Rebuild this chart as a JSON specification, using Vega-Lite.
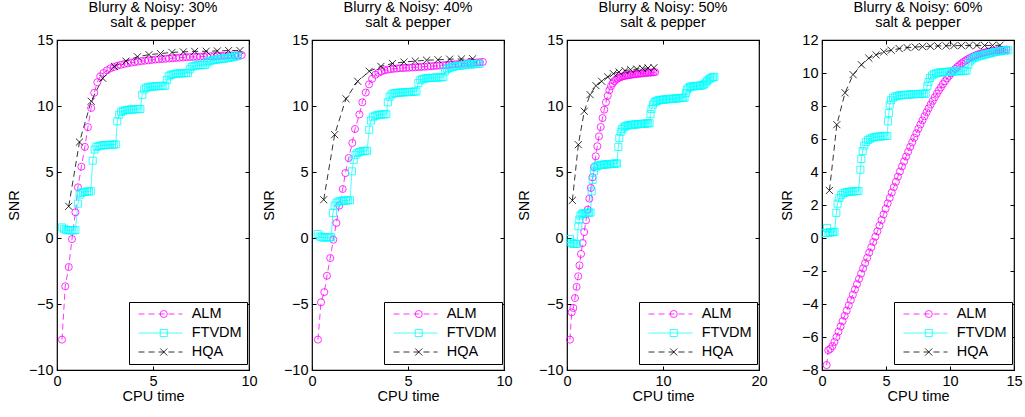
{
"$schema": "https://vega.github.io/schema/vega-lite/v6.json",
"background": "white",
"padding": {"left": 5, "top": -2, "right": 0, "bottom": 0},
"spacing": 63,
"bounds": "flush",
"data": {"values": [
{"p":1,"m":"ALM","x":0.26,"y":-7.7},{"p":1,"m":"ALM","x":0.43,"y":-3.66},{"p":1,"m":"ALM","x":0.61,"y":-2.2},{"p":1,"m":"ALM","x":0.78,"y":-0.08},{"p":1,"m":"ALM","x":0.96,"y":1.95},{"p":1,"m":"ALM","x":1.09,"y":3.84},{"p":1,"m":"ALM","x":1.27,"y":5.4},{"p":1,"m":"ALM","x":1.45,"y":6.9},{"p":1,"m":"ALM","x":1.61,"y":8.4},{"p":1,"m":"ALM","x":1.78,"y":9.85},{"p":1,"m":"ALM","x":1.94,"y":11.0},{"p":1,"m":"ALM","x":2.1,"y":11.8},{"p":1,"m":"ALM","x":2.25,"y":12.25},{"p":1,"m":"ALM","x":2.42,"y":12.5},{"p":1,"m":"ALM","x":2.6,"y":12.7},{"p":1,"m":"ALM","x":2.78,"y":12.85},{"p":1,"m":"ALM","x":2.96,"y":12.95},{"p":1,"m":"ALM","x":3.14,"y":13.05},{"p":1,"m":"ALM","x":3.32,"y":13.12},{"p":1,"m":"ALM","x":3.5,"y":13.18},{"p":1,"m":"ALM","x":3.68,"y":13.23},{"p":1,"m":"ALM","x":3.86,"y":13.28},{"p":1,"m":"ALM","x":4.04,"y":13.32},{"p":1,"m":"ALM","x":4.22,"y":13.36},{"p":1,"m":"ALM","x":4.4,"y":13.4},{"p":1,"m":"ALM","x":4.58,"y":13.43},{"p":1,"m":"ALM","x":4.76,"y":13.46},{"p":1,"m":"ALM","x":4.94,"y":13.49},{"p":1,"m":"ALM","x":5.12,"y":13.52},{"p":1,"m":"ALM","x":5.3,"y":13.54},{"p":1,"m":"ALM","x":5.48,"y":13.56},{"p":1,"m":"ALM","x":5.66,"y":13.58},{"p":1,"m":"ALM","x":5.84,"y":13.6},{"p":1,"m":"ALM","x":6.02,"y":13.62},{"p":1,"m":"ALM","x":6.2,"y":13.64},{"p":1,"m":"ALM","x":6.38,"y":13.66},{"p":1,"m":"ALM","x":6.56,"y":13.68},{"p":1,"m":"ALM","x":6.74,"y":13.7},{"p":1,"m":"ALM","x":6.92,"y":13.71},{"p":1,"m":"ALM","x":7.1,"y":13.72},{"p":1,"m":"ALM","x":7.28,"y":13.73},{"p":1,"m":"ALM","x":7.46,"y":13.74},{"p":1,"m":"ALM","x":7.64,"y":13.75},{"p":1,"m":"ALM","x":7.82,"y":13.76},{"p":1,"m":"ALM","x":8.0,"y":13.77},{"p":1,"m":"ALM","x":8.18,"y":13.78},{"p":1,"m":"ALM","x":8.36,"y":13.79},{"p":1,"m":"ALM","x":8.54,"y":13.8},{"p":1,"m":"ALM","x":8.72,"y":13.81},{"p":1,"m":"ALM","x":8.9,"y":13.82},{"p":1,"m":"ALM","x":9.08,"y":13.83},{"p":1,"m":"ALM","x":9.26,"y":13.84},{"p":1,"m":"ALM","x":9.44,"y":13.85},{"p":1,"m":"ALM","x":9.62,"y":13.86},
{"p":1,"m":"HQA","x":0.61,"y":2.4},{"p":1,"m":"HQA","x":1.17,"y":7.27},{"p":1,"m":"HQA","x":1.78,"y":10.36},{"p":1,"m":"HQA","x":2.38,"y":12.1},{"p":1,"m":"HQA","x":2.99,"y":13.0},{"p":1,"m":"HQA","x":3.59,"y":13.4},{"p":1,"m":"HQA","x":4.19,"y":13.73},{"p":1,"m":"HQA","x":4.79,"y":13.89},{"p":1,"m":"HQA","x":5.39,"y":13.97},{"p":1,"m":"HQA","x":5.99,"y":14.06},{"p":1,"m":"HQA","x":6.58,"y":14.1},{"p":1,"m":"HQA","x":7.17,"y":14.14},{"p":1,"m":"HQA","x":7.77,"y":14.15},{"p":1,"m":"HQA","x":8.35,"y":14.17},{"p":1,"m":"HQA","x":8.94,"y":14.2},{"p":1,"m":"HQA","x":9.53,"y":14.2},
{"p":1,"m":"FTVDM","x":0.26,"y":0.8},{"p":1,"m":"FTVDM","x":0.36,"y":0.7},{"p":1,"m":"FTVDM","x":0.46,"y":0.62},{"p":1,"m":"FTVDM","x":0.56,"y":0.58},{"p":1,"m":"FTVDM","x":0.66,"y":0.58},{"p":1,"m":"FTVDM","x":0.76,"y":0.58},{"p":1,"m":"FTVDM","x":0.86,"y":0.58},{"p":1,"m":"FTVDM","x":0.96,"y":0.6},{"p":1,"m":"FTVDM","x":1.09,"y":2.6},{"p":1,"m":"FTVDM","x":1.18,"y":3.28},{"p":1,"m":"FTVDM","x":1.26,"y":3.42},{"p":1,"m":"FTVDM","x":1.36,"y":3.47},{"p":1,"m":"FTVDM","x":1.46,"y":3.5},{"p":1,"m":"FTVDM","x":1.56,"y":3.52},{"p":1,"m":"FTVDM","x":1.66,"y":3.53},{"p":1,"m":"FTVDM","x":1.76,"y":3.54},{"p":1,"m":"FTVDM","x":1.86,"y":5.86},{"p":1,"m":"FTVDM","x":1.96,"y":6.7},{"p":1,"m":"FTVDM","x":2.06,"y":6.9},{"p":1,"m":"FTVDM","x":2.16,"y":6.97},{"p":1,"m":"FTVDM","x":2.26,"y":7.0},{"p":1,"m":"FTVDM","x":2.36,"y":7.02},{"p":1,"m":"FTVDM","x":2.46,"y":7.03},{"p":1,"m":"FTVDM","x":2.56,"y":7.04},{"p":1,"m":"FTVDM","x":2.66,"y":7.05},{"p":1,"m":"FTVDM","x":2.76,"y":7.06},{"p":1,"m":"FTVDM","x":2.86,"y":7.07},{"p":1,"m":"FTVDM","x":2.96,"y":7.08},{"p":1,"m":"FTVDM","x":3.06,"y":7.09},{"p":1,"m":"FTVDM","x":3.14,"y":8.84},{"p":1,"m":"FTVDM","x":3.24,"y":9.35},{"p":1,"m":"FTVDM","x":3.34,"y":9.55},{"p":1,"m":"FTVDM","x":3.44,"y":9.63},{"p":1,"m":"FTVDM","x":3.54,"y":9.67},{"p":1,"m":"FTVDM","x":3.64,"y":9.7},{"p":1,"m":"FTVDM","x":3.74,"y":9.72},{"p":1,"m":"FTVDM","x":3.84,"y":9.73},{"p":1,"m":"FTVDM","x":3.94,"y":9.74},{"p":1,"m":"FTVDM","x":4.04,"y":9.75},{"p":1,"m":"FTVDM","x":4.14,"y":9.76},{"p":1,"m":"FTVDM","x":4.24,"y":9.77},{"p":1,"m":"FTVDM","x":4.34,"y":9.78},{"p":1,"m":"FTVDM","x":4.44,"y":10.85},{"p":1,"m":"FTVDM","x":4.54,"y":11.25},{"p":1,"m":"FTVDM","x":4.64,"y":11.38},{"p":1,"m":"FTVDM","x":4.74,"y":11.42},{"p":1,"m":"FTVDM","x":4.84,"y":11.45},{"p":1,"m":"FTVDM","x":4.94,"y":11.47},{"p":1,"m":"FTVDM","x":5.04,"y":11.48},{"p":1,"m":"FTVDM","x":5.14,"y":11.49},{"p":1,"m":"FTVDM","x":5.24,"y":11.5},{"p":1,"m":"FTVDM","x":5.34,"y":11.51},{"p":1,"m":"FTVDM","x":5.44,"y":11.52},{"p":1,"m":"FTVDM","x":5.54,"y":11.53},{"p":1,"m":"FTVDM","x":5.64,"y":11.54},{"p":1,"m":"FTVDM","x":5.72,"y":11.98},{"p":1,"m":"FTVDM","x":5.82,"y":12.25},{"p":1,"m":"FTVDM","x":5.92,"y":12.35},{"p":1,"m":"FTVDM","x":6.02,"y":12.4},{"p":1,"m":"FTVDM","x":6.12,"y":12.43},{"p":1,"m":"FTVDM","x":6.22,"y":12.45},{"p":1,"m":"FTVDM","x":6.32,"y":12.46},{"p":1,"m":"FTVDM","x":6.42,"y":12.47},{"p":1,"m":"FTVDM","x":6.52,"y":12.48},{"p":1,"m":"FTVDM","x":6.62,"y":12.49},{"p":1,"m":"FTVDM","x":6.72,"y":12.5},{"p":1,"m":"FTVDM","x":6.82,"y":12.51},{"p":1,"m":"FTVDM","x":6.92,"y":12.78},{"p":1,"m":"FTVDM","x":7.02,"y":12.97},{"p":1,"m":"FTVDM","x":7.12,"y":13.03},{"p":1,"m":"FTVDM","x":7.22,"y":13.06},{"p":1,"m":"FTVDM","x":7.32,"y":13.08},{"p":1,"m":"FTVDM","x":7.42,"y":13.09},{"p":1,"m":"FTVDM","x":7.52,"y":13.1},{"p":1,"m":"FTVDM","x":7.62,"y":13.11},{"p":1,"m":"FTVDM","x":7.72,"y":13.12},{"p":1,"m":"FTVDM","x":7.82,"y":13.3},{"p":1,"m":"FTVDM","x":7.92,"y":13.4},{"p":1,"m":"FTVDM","x":8.02,"y":13.44},{"p":1,"m":"FTVDM","x":8.12,"y":13.47},{"p":1,"m":"FTVDM","x":8.22,"y":13.5},{"p":1,"m":"FTVDM","x":8.32,"y":13.52},{"p":1,"m":"FTVDM","x":8.42,"y":13.54},{"p":1,"m":"FTVDM","x":8.52,"y":13.56},{"p":1,"m":"FTVDM","x":8.62,"y":13.58},{"p":1,"m":"FTVDM","x":8.72,"y":13.6},{"p":1,"m":"FTVDM","x":8.82,"y":13.62},{"p":1,"m":"FTVDM","x":8.92,"y":13.64},{"p":1,"m":"FTVDM","x":9.02,"y":13.67},{"p":1,"m":"FTVDM","x":9.12,"y":13.7},{"p":1,"m":"FTVDM","x":9.22,"y":13.73},{"p":1,"m":"FTVDM","x":9.32,"y":13.76},{"p":1,"m":"FTVDM","x":9.42,"y":13.79},
{"p":2,"m":"ALM","x":0.31,"y":-7.7},{"p":2,"m":"ALM","x":0.47,"y":-4.87},{"p":2,"m":"ALM","x":0.64,"y":-4.1},{"p":2,"m":"ALM","x":0.78,"y":-2.86},{"p":2,"m":"ALM","x":0.95,"y":-1.52},{"p":2,"m":"ALM","x":1.11,"y":-0.13},{"p":2,"m":"ALM","x":1.27,"y":1.14},{"p":2,"m":"ALM","x":1.42,"y":2.45},{"p":2,"m":"ALM","x":1.6,"y":3.71},{"p":2,"m":"ALM","x":1.74,"y":4.92},{"p":2,"m":"ALM","x":1.91,"y":6.06},{"p":2,"m":"ALM","x":2.1,"y":7.2},{"p":2,"m":"ALM","x":2.24,"y":8.26},{"p":2,"m":"ALM","x":2.47,"y":9.36},{"p":2,"m":"ALM","x":2.62,"y":10.28},{"p":2,"m":"ALM","x":2.8,"y":11.02},{"p":2,"m":"ALM","x":2.97,"y":11.64},{"p":2,"m":"ALM","x":3.13,"y":12.06},{"p":2,"m":"ALM","x":3.3,"y":12.37},{"p":2,"m":"ALM","x":3.46,"y":12.52},{"p":2,"m":"ALM","x":3.62,"y":12.62},{"p":2,"m":"ALM","x":3.78,"y":12.7},{"p":2,"m":"ALM","x":3.94,"y":12.75},{"p":2,"m":"ALM","x":4.1,"y":12.79},{"p":2,"m":"ALM","x":4.26,"y":12.82},{"p":2,"m":"ALM","x":4.42,"y":12.84},{"p":2,"m":"ALM","x":4.58,"y":12.86},{"p":2,"m":"ALM","x":4.74,"y":12.88},{"p":2,"m":"ALM","x":4.9,"y":12.89},{"p":2,"m":"ALM","x":5.06,"y":12.9},{"p":2,"m":"ALM","x":5.22,"y":12.92},{"p":2,"m":"ALM","x":5.38,"y":12.93},{"p":2,"m":"ALM","x":5.54,"y":12.95},{"p":2,"m":"ALM","x":5.7,"y":12.96},{"p":2,"m":"ALM","x":5.86,"y":12.98},{"p":2,"m":"ALM","x":6.02,"y":12.99},{"p":2,"m":"ALM","x":6.18,"y":13.01},{"p":2,"m":"ALM","x":6.34,"y":13.03},{"p":2,"m":"ALM","x":6.5,"y":13.05},{"p":2,"m":"ALM","x":6.66,"y":13.07},{"p":2,"m":"ALM","x":6.82,"y":13.09},{"p":2,"m":"ALM","x":6.98,"y":13.1},{"p":2,"m":"ALM","x":7.14,"y":13.12},{"p":2,"m":"ALM","x":7.3,"y":13.14},{"p":2,"m":"ALM","x":7.46,"y":13.16},{"p":2,"m":"ALM","x":7.62,"y":13.18},{"p":2,"m":"ALM","x":7.78,"y":13.2},{"p":2,"m":"ALM","x":7.94,"y":13.22},{"p":2,"m":"ALM","x":8.1,"y":13.24},{"p":2,"m":"ALM","x":8.26,"y":13.26},{"p":2,"m":"ALM","x":8.42,"y":13.28},{"p":2,"m":"ALM","x":8.58,"y":13.3},{"p":2,"m":"ALM","x":8.74,"y":13.32},{"p":2,"m":"ALM","x":8.9,"y":13.34},
{"p":2,"m":"HQA","x":0.61,"y":2.9},{"p":2,"m":"HQA","x":1.18,"y":7.83},{"p":2,"m":"HQA","x":1.77,"y":10.55},{"p":2,"m":"HQA","x":2.38,"y":11.87},{"p":2,"m":"HQA","x":2.98,"y":12.63},{"p":2,"m":"HQA","x":3.59,"y":13.0},{"p":2,"m":"HQA","x":4.19,"y":13.22},{"p":2,"m":"HQA","x":4.79,"y":13.33},{"p":2,"m":"HQA","x":5.38,"y":13.4},{"p":2,"m":"HQA","x":5.97,"y":13.47},{"p":2,"m":"HQA","x":6.56,"y":13.5},{"p":2,"m":"HQA","x":7.17,"y":13.55},{"p":2,"m":"HQA","x":7.78,"y":13.56},{"p":2,"m":"HQA","x":8.37,"y":13.58},
{"p":2,"m":"FTVDM","x":0.3,"y":0.3},{"p":2,"m":"FTVDM","x":0.4,"y":0.12},{"p":2,"m":"FTVDM","x":0.5,"y":0.05},{"p":2,"m":"FTVDM","x":0.6,"y":0.04},{"p":2,"m":"FTVDM","x":0.7,"y":0.04},{"p":2,"m":"FTVDM","x":0.8,"y":0.04},{"p":2,"m":"FTVDM","x":0.9,"y":0.05},{"p":2,"m":"FTVDM","x":1.0,"y":0.06},{"p":2,"m":"FTVDM","x":1.09,"y":1.9},{"p":2,"m":"FTVDM","x":1.18,"y":2.45},{"p":2,"m":"FTVDM","x":1.28,"y":2.68},{"p":2,"m":"FTVDM","x":1.38,"y":2.76},{"p":2,"m":"FTVDM","x":1.48,"y":2.8},{"p":2,"m":"FTVDM","x":1.58,"y":2.82},{"p":2,"m":"FTVDM","x":1.68,"y":2.83},{"p":2,"m":"FTVDM","x":1.78,"y":2.84},{"p":2,"m":"FTVDM","x":1.88,"y":2.85},{"p":2,"m":"FTVDM","x":1.98,"y":2.86},{"p":2,"m":"FTVDM","x":2.08,"y":5.05},{"p":2,"m":"FTVDM","x":2.17,"y":5.93},{"p":2,"m":"FTVDM","x":2.27,"y":6.3},{"p":2,"m":"FTVDM","x":2.37,"y":6.45},{"p":2,"m":"FTVDM","x":2.47,"y":6.52},{"p":2,"m":"FTVDM","x":2.57,"y":6.56},{"p":2,"m":"FTVDM","x":2.67,"y":6.58},{"p":2,"m":"FTVDM","x":2.77,"y":6.6},{"p":2,"m":"FTVDM","x":2.87,"y":6.61},{"p":2,"m":"FTVDM","x":2.98,"y":8.2},{"p":2,"m":"FTVDM","x":3.07,"y":8.9},{"p":2,"m":"FTVDM","x":3.17,"y":9.15},{"p":2,"m":"FTVDM","x":3.27,"y":9.25},{"p":2,"m":"FTVDM","x":3.37,"y":9.3},{"p":2,"m":"FTVDM","x":3.47,"y":9.33},{"p":2,"m":"FTVDM","x":3.57,"y":9.35},{"p":2,"m":"FTVDM","x":3.67,"y":9.36},{"p":2,"m":"FTVDM","x":3.77,"y":9.37},{"p":2,"m":"FTVDM","x":3.87,"y":9.38},{"p":2,"m":"FTVDM","x":3.95,"y":10.28},{"p":2,"m":"FTVDM","x":4.04,"y":10.7},{"p":2,"m":"FTVDM","x":4.14,"y":10.88},{"p":2,"m":"FTVDM","x":4.24,"y":10.95},{"p":2,"m":"FTVDM","x":4.34,"y":10.98},{"p":2,"m":"FTVDM","x":4.44,"y":11.0},{"p":2,"m":"FTVDM","x":4.54,"y":11.01},{"p":2,"m":"FTVDM","x":4.64,"y":11.02},{"p":2,"m":"FTVDM","x":4.74,"y":11.03},{"p":2,"m":"FTVDM","x":4.84,"y":11.04},{"p":2,"m":"FTVDM","x":4.94,"y":11.05},{"p":2,"m":"FTVDM","x":5.04,"y":11.06},{"p":2,"m":"FTVDM","x":5.14,"y":11.07},{"p":2,"m":"FTVDM","x":5.24,"y":11.08},{"p":2,"m":"FTVDM","x":5.34,"y":11.09},{"p":2,"m":"FTVDM","x":5.44,"y":11.1},{"p":2,"m":"FTVDM","x":5.54,"y":11.74},{"p":2,"m":"FTVDM","x":5.64,"y":11.95},{"p":2,"m":"FTVDM","x":5.74,"y":12.03},{"p":2,"m":"FTVDM","x":5.84,"y":12.07},{"p":2,"m":"FTVDM","x":5.94,"y":12.1},{"p":2,"m":"FTVDM","x":6.04,"y":12.11},{"p":2,"m":"FTVDM","x":6.14,"y":12.12},{"p":2,"m":"FTVDM","x":6.24,"y":12.13},{"p":2,"m":"FTVDM","x":6.34,"y":12.14},{"p":2,"m":"FTVDM","x":6.44,"y":12.15},{"p":2,"m":"FTVDM","x":6.54,"y":12.16},{"p":2,"m":"FTVDM","x":6.64,"y":12.17},{"p":2,"m":"FTVDM","x":6.74,"y":12.18},{"p":2,"m":"FTVDM","x":6.84,"y":12.19},{"p":2,"m":"FTVDM","x":6.93,"y":12.63},{"p":2,"m":"FTVDM","x":7.03,"y":12.8},{"p":2,"m":"FTVDM","x":7.13,"y":12.88},{"p":2,"m":"FTVDM","x":7.23,"y":12.93},{"p":2,"m":"FTVDM","x":7.33,"y":12.97},{"p":2,"m":"FTVDM","x":7.43,"y":13.0},{"p":2,"m":"FTVDM","x":7.53,"y":13.02},{"p":2,"m":"FTVDM","x":7.63,"y":13.04},{"p":2,"m":"FTVDM","x":7.73,"y":13.06},{"p":2,"m":"FTVDM","x":7.83,"y":13.08},{"p":2,"m":"FTVDM","x":7.93,"y":13.1},{"p":2,"m":"FTVDM","x":8.03,"y":13.12},{"p":2,"m":"FTVDM","x":8.13,"y":13.14},{"p":2,"m":"FTVDM","x":8.23,"y":13.15},{"p":2,"m":"FTVDM","x":8.33,"y":13.16},{"p":2,"m":"FTVDM","x":8.43,"y":13.17},{"p":2,"m":"FTVDM","x":8.53,"y":13.18},{"p":2,"m":"FTVDM","x":8.63,"y":13.19},{"p":2,"m":"FTVDM","x":8.73,"y":13.2},
{"p":3,"m":"ALM","x":0.31,"y":-7.7},{"p":3,"m":"ALM","x":0.49,"y":-5.63},{"p":3,"m":"ALM","x":0.66,"y":-5.3},{"p":3,"m":"ALM","x":0.83,"y":-4.55},{"p":3,"m":"ALM","x":1.0,"y":-3.7},{"p":3,"m":"ALM","x":1.17,"y":-2.9},{"p":3,"m":"ALM","x":1.3,"y":-2.07},{"p":3,"m":"ALM","x":1.46,"y":-1.21},{"p":3,"m":"ALM","x":1.63,"y":-0.38},{"p":3,"m":"ALM","x":1.79,"y":0.45},{"p":3,"m":"ALM","x":1.98,"y":1.34},{"p":3,"m":"ALM","x":2.15,"y":2.14},{"p":3,"m":"ALM","x":2.33,"y":2.98},{"p":3,"m":"ALM","x":2.49,"y":3.79},{"p":3,"m":"ALM","x":2.65,"y":4.6},{"p":3,"m":"ALM","x":2.82,"y":5.38},{"p":3,"m":"ALM","x":2.99,"y":6.19},{"p":3,"m":"ALM","x":3.16,"y":6.95},{"p":3,"m":"ALM","x":3.33,"y":7.7},{"p":3,"m":"ALM","x":3.51,"y":8.41},{"p":3,"m":"ALM","x":3.7,"y":9.09},{"p":3,"m":"ALM","x":3.88,"y":9.72},{"p":3,"m":"ALM","x":4.06,"y":10.28},{"p":3,"m":"ALM","x":4.24,"y":10.78},{"p":3,"m":"ALM","x":4.41,"y":11.19},{"p":3,"m":"ALM","x":4.58,"y":11.49},{"p":3,"m":"ALM","x":4.76,"y":11.72},{"p":3,"m":"ALM","x":4.93,"y":11.88},{"p":3,"m":"ALM","x":5.1,"y":12.0},{"p":3,"m":"ALM","x":5.27,"y":12.08},{"p":3,"m":"ALM","x":5.44,"y":12.15},{"p":3,"m":"ALM","x":5.61,"y":12.2},{"p":3,"m":"ALM","x":5.78,"y":12.24},{"p":3,"m":"ALM","x":5.95,"y":12.27},{"p":3,"m":"ALM","x":6.12,"y":12.3},{"p":3,"m":"ALM","x":6.29,"y":12.32},{"p":3,"m":"ALM","x":6.46,"y":12.34},{"p":3,"m":"ALM","x":6.63,"y":12.36},{"p":3,"m":"ALM","x":6.8,"y":12.38},{"p":3,"m":"ALM","x":6.97,"y":12.4},{"p":3,"m":"ALM","x":7.14,"y":12.41},{"p":3,"m":"ALM","x":7.31,"y":12.43},{"p":3,"m":"ALM","x":7.48,"y":12.44},{"p":3,"m":"ALM","x":7.65,"y":12.46},{"p":3,"m":"ALM","x":7.82,"y":12.47},{"p":3,"m":"ALM","x":7.99,"y":12.48},{"p":3,"m":"ALM","x":8.16,"y":12.5},{"p":3,"m":"ALM","x":8.33,"y":12.51},{"p":3,"m":"ALM","x":8.5,"y":12.52},{"p":3,"m":"ALM","x":8.67,"y":12.53},{"p":3,"m":"ALM","x":8.84,"y":12.54},{"p":3,"m":"ALM","x":9.01,"y":12.55},{"p":3,"m":"ALM","x":9.18,"y":12.56},
{"p":3,"m":"HQA","x":0.56,"y":2.85},{"p":3,"m":"HQA","x":1.18,"y":7.07},{"p":3,"m":"HQA","x":1.8,"y":9.6},{"p":3,"m":"HQA","x":2.4,"y":10.86},{"p":3,"m":"HQA","x":3.02,"y":11.54},{"p":3,"m":"HQA","x":3.61,"y":11.87},{"p":3,"m":"HQA","x":4.24,"y":12.2},{"p":3,"m":"HQA","x":4.83,"y":12.45},{"p":3,"m":"HQA","x":5.42,"y":12.58},{"p":3,"m":"HQA","x":6.04,"y":12.68},{"p":3,"m":"HQA","x":6.63,"y":12.75},{"p":3,"m":"HQA","x":7.26,"y":12.8},{"p":3,"m":"HQA","x":7.85,"y":12.85},{"p":3,"m":"HQA","x":8.44,"y":12.88},{"p":3,"m":"HQA","x":9.06,"y":12.9},
{"p":3,"m":"FTVDM","x":0.31,"y":-0.08},{"p":3,"m":"FTVDM","x":0.45,"y":-0.35},{"p":3,"m":"FTVDM","x":0.6,"y":-0.43},{"p":3,"m":"FTVDM","x":0.75,"y":-0.45},{"p":3,"m":"FTVDM","x":0.9,"y":-0.45},{"p":3,"m":"FTVDM","x":1.05,"y":-0.44},{"p":3,"m":"FTVDM","x":1.18,"y":0.89},{"p":3,"m":"FTVDM","x":1.28,"y":1.39},{"p":3,"m":"FTVDM","x":1.4,"y":1.7},{"p":3,"m":"FTVDM","x":1.55,"y":1.82},{"p":3,"m":"FTVDM","x":1.7,"y":1.87},{"p":3,"m":"FTVDM","x":1.85,"y":1.89},{"p":3,"m":"FTVDM","x":2.0,"y":1.9},{"p":3,"m":"FTVDM","x":2.15,"y":1.91},{"p":3,"m":"FTVDM","x":2.3,"y":1.92},{"p":3,"m":"FTVDM","x":2.45,"y":1.93},{"p":3,"m":"FTVDM","x":2.57,"y":3.53},{"p":3,"m":"FTVDM","x":2.67,"y":4.4},{"p":3,"m":"FTVDM","x":2.81,"y":5.05},{"p":3,"m":"FTVDM","x":2.96,"y":5.35},{"p":3,"m":"FTVDM","x":3.11,"y":5.45},{"p":3,"m":"FTVDM","x":3.26,"y":5.5},{"p":3,"m":"FTVDM","x":3.41,"y":5.52},{"p":3,"m":"FTVDM","x":3.56,"y":5.54},{"p":3,"m":"FTVDM","x":3.71,"y":5.55},{"p":3,"m":"FTVDM","x":3.86,"y":5.56},{"p":3,"m":"FTVDM","x":4.01,"y":5.57},{"p":3,"m":"FTVDM","x":4.16,"y":5.58},{"p":3,"m":"FTVDM","x":4.31,"y":5.59},{"p":3,"m":"FTVDM","x":4.46,"y":5.6},{"p":3,"m":"FTVDM","x":4.61,"y":5.61},{"p":3,"m":"FTVDM","x":4.76,"y":5.62},{"p":3,"m":"FTVDM","x":4.91,"y":5.63},{"p":3,"m":"FTVDM","x":5.06,"y":5.64},{"p":3,"m":"FTVDM","x":5.21,"y":5.65},{"p":3,"m":"FTVDM","x":5.35,"y":6.9},{"p":3,"m":"FTVDM","x":5.45,"y":7.58},{"p":3,"m":"FTVDM","x":5.6,"y":8.04},{"p":3,"m":"FTVDM","x":5.75,"y":8.25},{"p":3,"m":"FTVDM","x":5.9,"y":8.38},{"p":3,"m":"FTVDM","x":6.05,"y":8.45},{"p":3,"m":"FTVDM","x":6.2,"y":8.5},{"p":3,"m":"FTVDM","x":6.35,"y":8.53},{"p":3,"m":"FTVDM","x":6.5,"y":8.55},{"p":3,"m":"FTVDM","x":6.65,"y":8.57},{"p":3,"m":"FTVDM","x":6.8,"y":8.58},{"p":3,"m":"FTVDM","x":6.95,"y":8.59},{"p":3,"m":"FTVDM","x":7.1,"y":8.6},{"p":3,"m":"FTVDM","x":7.25,"y":8.61},{"p":3,"m":"FTVDM","x":7.4,"y":8.62},{"p":3,"m":"FTVDM","x":7.55,"y":8.63},{"p":3,"m":"FTVDM","x":7.7,"y":8.64},{"p":3,"m":"FTVDM","x":7.85,"y":8.65},{"p":3,"m":"FTVDM","x":8.0,"y":8.66},{"p":3,"m":"FTVDM","x":8.15,"y":8.67},{"p":3,"m":"FTVDM","x":8.3,"y":8.68},{"p":3,"m":"FTVDM","x":8.45,"y":8.69},{"p":3,"m":"FTVDM","x":8.6,"y":8.7},{"p":3,"m":"FTVDM","x":8.7,"y":9.39},{"p":3,"m":"FTVDM","x":8.8,"y":9.77},{"p":3,"m":"FTVDM","x":8.95,"y":10.1},{"p":3,"m":"FTVDM","x":9.1,"y":10.28},{"p":3,"m":"FTVDM","x":9.25,"y":10.36},{"p":3,"m":"FTVDM","x":9.4,"y":10.4},{"p":3,"m":"FTVDM","x":9.55,"y":10.43},{"p":3,"m":"FTVDM","x":9.7,"y":10.45},{"p":3,"m":"FTVDM","x":9.85,"y":10.47},{"p":3,"m":"FTVDM","x":10.0,"y":10.48},{"p":3,"m":"FTVDM","x":10.15,"y":10.49},{"p":3,"m":"FTVDM","x":10.3,"y":10.5},{"p":3,"m":"FTVDM","x":10.45,"y":10.51},{"p":3,"m":"FTVDM","x":10.6,"y":10.52},{"p":3,"m":"FTVDM","x":10.75,"y":10.53},{"p":3,"m":"FTVDM","x":10.9,"y":10.54},{"p":3,"m":"FTVDM","x":11.05,"y":10.55},{"p":3,"m":"FTVDM","x":11.2,"y":10.56},{"p":3,"m":"FTVDM","x":11.35,"y":10.57},{"p":3,"m":"FTVDM","x":11.5,"y":10.58},{"p":3,"m":"FTVDM","x":11.65,"y":10.59},{"p":3,"m":"FTVDM","x":11.8,"y":10.6},{"p":3,"m":"FTVDM","x":11.95,"y":10.61},{"p":3,"m":"FTVDM","x":12.1,"y":10.62},{"p":3,"m":"FTVDM","x":12.25,"y":10.63},{"p":3,"m":"FTVDM","x":12.4,"y":10.98},{"p":3,"m":"FTVDM","x":12.5,"y":11.25},{"p":3,"m":"FTVDM","x":12.65,"y":11.38},{"p":3,"m":"FTVDM","x":12.8,"y":11.44},{"p":3,"m":"FTVDM","x":12.95,"y":11.47},{"p":3,"m":"FTVDM","x":13.1,"y":11.49},{"p":3,"m":"FTVDM","x":13.25,"y":11.5},{"p":3,"m":"FTVDM","x":13.4,"y":11.51},{"p":3,"m":"FTVDM","x":13.55,"y":11.52},{"p":3,"m":"FTVDM","x":13.7,"y":11.53},{"p":3,"m":"FTVDM","x":13.85,"y":11.54},{"p":3,"m":"FTVDM","x":14.0,"y":11.55},{"p":3,"m":"FTVDM","x":14.15,"y":11.58},{"p":3,"m":"FTVDM","x":14.3,"y":11.65},{"p":3,"m":"FTVDM","x":14.45,"y":11.78},{"p":3,"m":"FTVDM","x":14.6,"y":11.9},{"p":3,"m":"FTVDM","x":14.75,"y":12.0},{"p":3,"m":"FTVDM","x":14.9,"y":12.08},{"p":3,"m":"FTVDM","x":15.05,"y":12.14},{"p":3,"m":"FTVDM","x":15.2,"y":12.18},{"p":3,"m":"FTVDM","x":15.35,"y":12.21},
{"p":4,"m":"ALM","x":0.36,"y":-7.7},{"p":4,"m":"ALM","x":0.49,"y":-6.8},{"p":4,"m":"ALM","x":0.65,"y":-6.72},{"p":4,"m":"ALM","x":0.81,"y":-6.55},{"p":4,"m":"ALM","x":0.97,"y":-6.3},{"p":4,"m":"ALM","x":1.13,"y":-6.0},{"p":4,"m":"ALM","x":1.29,"y":-5.68},{"p":4,"m":"ALM","x":1.45,"y":-5.36},{"p":4,"m":"ALM","x":1.61,"y":-5.04},{"p":4,"m":"ALM","x":1.77,"y":-4.72},{"p":4,"m":"ALM","x":1.93,"y":-4.4},{"p":4,"m":"ALM","x":2.09,"y":-4.08},{"p":4,"m":"ALM","x":2.25,"y":-3.76},{"p":4,"m":"ALM","x":2.41,"y":-3.44},{"p":4,"m":"ALM","x":2.57,"y":-3.12},{"p":4,"m":"ALM","x":2.73,"y":-2.8},{"p":4,"m":"ALM","x":2.89,"y":-2.48},{"p":4,"m":"ALM","x":3.05,"y":-2.16},{"p":4,"m":"ALM","x":3.21,"y":-1.84},{"p":4,"m":"ALM","x":3.37,"y":-1.52},{"p":4,"m":"ALM","x":3.53,"y":-1.2},{"p":4,"m":"ALM","x":3.69,"y":-0.88},{"p":4,"m":"ALM","x":3.85,"y":-0.56},{"p":4,"m":"ALM","x":4.01,"y":-0.24},{"p":4,"m":"ALM","x":4.17,"y":0.08},{"p":4,"m":"ALM","x":4.33,"y":0.41},{"p":4,"m":"ALM","x":4.49,"y":0.75},{"p":4,"m":"ALM","x":4.65,"y":1.09},{"p":4,"m":"ALM","x":4.81,"y":1.43},{"p":4,"m":"ALM","x":4.97,"y":1.77},{"p":4,"m":"ALM","x":5.13,"y":2.1},{"p":4,"m":"ALM","x":5.29,"y":2.43},{"p":4,"m":"ALM","x":5.45,"y":2.76},{"p":4,"m":"ALM","x":5.61,"y":3.08},{"p":4,"m":"ALM","x":5.77,"y":3.4},{"p":4,"m":"ALM","x":5.93,"y":3.72},{"p":4,"m":"ALM","x":6.09,"y":4.03},{"p":4,"m":"ALM","x":6.25,"y":4.34},{"p":4,"m":"ALM","x":6.41,"y":4.64},{"p":4,"m":"ALM","x":6.57,"y":4.94},{"p":4,"m":"ALM","x":6.73,"y":5.23},{"p":4,"m":"ALM","x":6.89,"y":5.52},{"p":4,"m":"ALM","x":7.05,"y":5.8},{"p":4,"m":"ALM","x":7.21,"y":6.08},{"p":4,"m":"ALM","x":7.37,"y":6.35},{"p":4,"m":"ALM","x":7.53,"y":6.62},{"p":4,"m":"ALM","x":7.69,"y":6.88},{"p":4,"m":"ALM","x":7.85,"y":7.13},{"p":4,"m":"ALM","x":8.01,"y":7.38},{"p":4,"m":"ALM","x":8.17,"y":7.62},{"p":4,"m":"ALM","x":8.33,"y":7.86},{"p":4,"m":"ALM","x":8.49,"y":8.09},{"p":4,"m":"ALM","x":8.65,"y":8.31},{"p":4,"m":"ALM","x":8.81,"y":8.53},{"p":4,"m":"ALM","x":8.97,"y":8.74},{"p":4,"m":"ALM","x":9.13,"y":8.94},{"p":4,"m":"ALM","x":9.29,"y":9.13},{"p":4,"m":"ALM","x":9.45,"y":9.32},{"p":4,"m":"ALM","x":9.61,"y":9.5},{"p":4,"m":"ALM","x":9.77,"y":9.67},{"p":4,"m":"ALM","x":9.93,"y":9.83},{"p":4,"m":"ALM","x":10.09,"y":9.98},{"p":4,"m":"ALM","x":10.25,"y":10.12},{"p":4,"m":"ALM","x":10.41,"y":10.25},{"p":4,"m":"ALM","x":10.57,"y":10.37},{"p":4,"m":"ALM","x":10.73,"y":10.48},{"p":4,"m":"ALM","x":10.89,"y":10.58},{"p":4,"m":"ALM","x":11.05,"y":10.67},{"p":4,"m":"ALM","x":11.21,"y":10.75},{"p":4,"m":"ALM","x":11.37,"y":10.83},{"p":4,"m":"ALM","x":11.53,"y":10.9},{"p":4,"m":"ALM","x":11.69,"y":10.96},{"p":4,"m":"ALM","x":11.85,"y":11.02},{"p":4,"m":"ALM","x":12.01,"y":11.07},{"p":4,"m":"ALM","x":12.17,"y":11.12},{"p":4,"m":"ALM","x":12.33,"y":11.16},{"p":4,"m":"ALM","x":12.49,"y":11.2},{"p":4,"m":"ALM","x":12.65,"y":11.23},{"p":4,"m":"ALM","x":12.81,"y":11.26},{"p":4,"m":"ALM","x":12.97,"y":11.29},{"p":4,"m":"ALM","x":13.13,"y":11.31},{"p":4,"m":"ALM","x":13.29,"y":11.33},{"p":4,"m":"ALM","x":13.45,"y":11.35},{"p":4,"m":"ALM","x":13.61,"y":11.37},{"p":4,"m":"ALM","x":13.77,"y":11.38},{"p":4,"m":"ALM","x":13.93,"y":11.39},{"p":4,"m":"ALM","x":14.09,"y":11.4},{"p":4,"m":"ALM","x":14.25,"y":11.41},{"p":4,"m":"ALM","x":14.41,"y":11.42},
{"p":4,"m":"HQA","x":0.58,"y":2.88},{"p":4,"m":"HQA","x":1.16,"y":6.87},{"p":4,"m":"HQA","x":1.8,"y":8.8},{"p":4,"m":"HQA","x":2.43,"y":9.9},{"p":4,"m":"HQA","x":3.08,"y":10.5},{"p":4,"m":"HQA","x":3.66,"y":10.9},{"p":4,"m":"HQA","x":4.22,"y":11.1},{"p":4,"m":"HQA","x":4.83,"y":11.28},{"p":4,"m":"HQA","x":5.4,"y":11.38},{"p":4,"m":"HQA","x":6.03,"y":11.48},{"p":4,"m":"HQA","x":6.65,"y":11.54},{"p":4,"m":"HQA","x":7.28,"y":11.57},{"p":4,"m":"HQA","x":7.86,"y":11.6},{"p":4,"m":"HQA","x":8.47,"y":11.62},{"p":4,"m":"HQA","x":9.06,"y":11.64},{"p":4,"m":"HQA","x":9.69,"y":11.65},{"p":4,"m":"HQA","x":10.3,"y":11.66},{"p":4,"m":"HQA","x":10.9,"y":11.66},{"p":4,"m":"HQA","x":11.5,"y":11.67},{"p":4,"m":"HQA","x":12.1,"y":11.67},{"p":4,"m":"HQA","x":12.7,"y":11.67},{"p":4,"m":"HQA","x":13.33,"y":11.67},{"p":4,"m":"HQA","x":13.9,"y":11.68},
{"p":4,"m":"FTVDM","x":0.26,"y":0.3},{"p":4,"m":"FTVDM","x":0.39,"y":0.6},{"p":4,"m":"FTVDM","x":0.5,"y":0.32},{"p":4,"m":"FTVDM","x":0.62,"y":0.33},{"p":4,"m":"FTVDM","x":0.74,"y":0.35},{"p":4,"m":"FTVDM","x":0.86,"y":0.36},{"p":4,"m":"FTVDM","x":0.98,"y":0.38},{"p":4,"m":"FTVDM","x":1.12,"y":1.52},{"p":4,"m":"FTVDM","x":1.22,"y":2.08},{"p":4,"m":"FTVDM","x":1.35,"y":2.42},{"p":4,"m":"FTVDM","x":1.5,"y":2.6},{"p":4,"m":"FTVDM","x":1.65,"y":2.7},{"p":4,"m":"FTVDM","x":1.8,"y":2.75},{"p":4,"m":"FTVDM","x":1.95,"y":2.78},{"p":4,"m":"FTVDM","x":2.1,"y":2.8},{"p":4,"m":"FTVDM","x":2.25,"y":2.81},{"p":4,"m":"FTVDM","x":2.4,"y":2.82},{"p":4,"m":"FTVDM","x":2.55,"y":2.83},{"p":4,"m":"FTVDM","x":2.7,"y":2.84},{"p":4,"m":"FTVDM","x":2.85,"y":2.85},{"p":4,"m":"FTVDM","x":3.0,"y":4.14},{"p":4,"m":"FTVDM","x":3.07,"y":4.79},{"p":4,"m":"FTVDM","x":3.18,"y":5.27},{"p":4,"m":"FTVDM","x":3.3,"y":5.6},{"p":4,"m":"FTVDM","x":3.45,"y":5.82},{"p":4,"m":"FTVDM","x":3.6,"y":5.94},{"p":4,"m":"FTVDM","x":3.75,"y":6.02},{"p":4,"m":"FTVDM","x":3.9,"y":6.07},{"p":4,"m":"FTVDM","x":4.05,"y":6.1},{"p":4,"m":"FTVDM","x":4.2,"y":6.12},{"p":4,"m":"FTVDM","x":4.35,"y":6.14},{"p":4,"m":"FTVDM","x":4.5,"y":6.15},{"p":4,"m":"FTVDM","x":4.65,"y":6.16},{"p":4,"m":"FTVDM","x":4.8,"y":6.17},{"p":4,"m":"FTVDM","x":4.95,"y":6.18},{"p":4,"m":"FTVDM","x":5.1,"y":6.19},{"p":4,"m":"FTVDM","x":5.16,"y":7.07},{"p":4,"m":"FTVDM","x":5.22,"y":7.57},{"p":4,"m":"FTVDM","x":5.29,"y":8.08},{"p":4,"m":"FTVDM","x":5.4,"y":8.35},{"p":4,"m":"FTVDM","x":5.55,"y":8.5},{"p":4,"m":"FTVDM","x":5.7,"y":8.57},{"p":4,"m":"FTVDM","x":5.85,"y":8.61},{"p":4,"m":"FTVDM","x":6.0,"y":8.63},{"p":4,"m":"FTVDM","x":6.15,"y":8.65},{"p":4,"m":"FTVDM","x":6.3,"y":8.66},{"p":4,"m":"FTVDM","x":6.45,"y":8.67},{"p":4,"m":"FTVDM","x":6.6,"y":8.68},{"p":4,"m":"FTVDM","x":6.75,"y":8.69},{"p":4,"m":"FTVDM","x":6.9,"y":8.7},{"p":4,"m":"FTVDM","x":7.05,"y":8.71},{"p":4,"m":"FTVDM","x":7.2,"y":8.72},{"p":4,"m":"FTVDM","x":7.35,"y":8.72},{"p":4,"m":"FTVDM","x":7.5,"y":8.73},{"p":4,"m":"FTVDM","x":7.65,"y":8.73},{"p":4,"m":"FTVDM","x":7.8,"y":8.74},{"p":4,"m":"FTVDM","x":7.95,"y":8.74},{"p":4,"m":"FTVDM","x":8.1,"y":8.75},{"p":4,"m":"FTVDM","x":8.23,"y":9.2},{"p":4,"m":"FTVDM","x":8.32,"y":9.45},{"p":4,"m":"FTVDM","x":8.45,"y":9.7},{"p":4,"m":"FTVDM","x":8.6,"y":9.85},{"p":4,"m":"FTVDM","x":8.75,"y":9.93},{"p":4,"m":"FTVDM","x":8.9,"y":9.98},{"p":4,"m":"FTVDM","x":9.05,"y":10.01},{"p":4,"m":"FTVDM","x":9.2,"y":10.03},{"p":4,"m":"FTVDM","x":9.35,"y":10.04},{"p":4,"m":"FTVDM","x":9.5,"y":10.05},{"p":4,"m":"FTVDM","x":9.65,"y":10.06},{"p":4,"m":"FTVDM","x":9.8,"y":10.07},{"p":4,"m":"FTVDM","x":9.95,"y":10.08},{"p":4,"m":"FTVDM","x":10.1,"y":10.09},{"p":4,"m":"FTVDM","x":10.25,"y":10.1},{"p":4,"m":"FTVDM","x":10.4,"y":10.1},{"p":4,"m":"FTVDM","x":10.55,"y":10.11},{"p":4,"m":"FTVDM","x":10.7,"y":10.11},{"p":4,"m":"FTVDM","x":10.85,"y":10.12},{"p":4,"m":"FTVDM","x":11.0,"y":10.12},{"p":4,"m":"FTVDM","x":11.15,"y":10.13},{"p":4,"m":"FTVDM","x":11.3,"y":10.14},{"p":4,"m":"FTVDM","x":11.43,"y":10.5},{"p":4,"m":"FTVDM","x":11.55,"y":10.7},{"p":4,"m":"FTVDM","x":11.7,"y":10.82},{"p":4,"m":"FTVDM","x":11.85,"y":10.9},{"p":4,"m":"FTVDM","x":12.0,"y":10.96},{"p":4,"m":"FTVDM","x":12.15,"y":11.0},{"p":4,"m":"FTVDM","x":12.3,"y":11.03},{"p":4,"m":"FTVDM","x":12.45,"y":11.06},{"p":4,"m":"FTVDM","x":12.6,"y":11.09},{"p":4,"m":"FTVDM","x":12.75,"y":11.12},{"p":4,"m":"FTVDM","x":12.9,"y":11.15},{"p":4,"m":"FTVDM","x":13.05,"y":11.18},{"p":4,"m":"FTVDM","x":13.2,"y":11.21},{"p":4,"m":"FTVDM","x":13.35,"y":11.24},{"p":4,"m":"FTVDM","x":13.5,"y":11.27},{"p":4,"m":"FTVDM","x":13.65,"y":11.29},{"p":4,"m":"FTVDM","x":13.8,"y":11.31},{"p":4,"m":"FTVDM","x":13.95,"y":11.33},{"p":4,"m":"FTVDM","x":14.1,"y":11.35},{"p":4,"m":"FTVDM","x":14.25,"y":11.36},{"p":4,"m":"FTVDM","x":14.4,"y":11.37},{"p":4,"m":"FTVDM","x":14.55,"y":11.38}
]},
"hconcat": [
{"width":192,"height":330,
 "title":{"text":["Blurry & Noisy: 30%","salt & pepper"]},
 "transform":[{"filter":"datum.p == 1"}],
 "resolve":{"axis":{"x":"independent","y":"independent"}},
 "layer":[
  {"mark":{"type":"line","strokeWidth":0.8},
   "encoding":{
    "x":{"field":"x","type":"quantitative","scale":{"domain":[0,10],"nice":false,"zero":false},"axis":{"values":[0,5,10],"title":"CPU time"}},
    "y":{"field":"y","type":"quantitative","scale":{"domain":[-10,15],"nice":false,"zero":false},"axis":{"values":[-10,-5,0,5,10,15],"title":"SNR"}},
    "color":{"field":"m","type":"nominal","scale":{"domain":["ALM","FTVDM","HQA"],"range":["#ff00ff","#00ffff","#000000"]},"legend":{"title":null,"orient":"none","legendX":72,"legendY":262,"symbolSize":1936,"symbolOffset":4,"labelOffset":8.7,"fillColor":"white","strokeColor":"black","zindex":1}},
    "strokeDash":{"field":"m","type":"nominal","scale":{"domain":["ALM","FTVDM","HQA"],"range":[[6,4],[1,0],[6,4]]},"legend":{"title":null,"orient":"none","legendX":72,"legendY":262,"symbolSize":1936,"symbolOffset":4,"labelOffset":8.7,"fillColor":"white","strokeColor":"black","zindex":1}}
   }},
  {"mark":{"type":"point","filled":false,"strokeWidth":0.8,"opacity":1,"size":50},
   "encoding":{
    "x":{"field":"x","type":"quantitative","scale":{"domain":[0,10],"nice":false,"zero":false},"axis":{"orient":"top","values":[0,5,10],"labels":false,"title":null}},
    "y":{"field":"y","type":"quantitative","scale":{"domain":[-10,15],"nice":false,"zero":false},"axis":{"orient":"right","values":[-10,-5,0,5,10,15],"labels":false,"title":null}},
    "stroke":{"field":"m","type":"nominal","scale":{"range":["#ff00ff","#00ffff","#000000"]},"legend":{"title":null,"orient":"none","legendX":72,"legendY":262,"symbolSize":50,"symbolOffset":22.5,"labelOffset":8.7,"labelExpr":"''","fillColor":"transparent","strokeColor":"transparent","zindex":2}},
    "shape":{"field":"m","type":"nominal","scale":{"range":["circle","square","M-1,-1L1,1M-1,1L1,-1"]},"legend":{"title":null,"orient":"none","legendX":72,"legendY":262,"symbolSize":50,"symbolOffset":22.5,"labelOffset":8.7,"labelExpr":"''","fillColor":"transparent","strokeColor":"transparent","zindex":2}}
   }}
 ]},
{"width":192,"height":330,
 "title":{"text":["Blurry & Noisy: 40%","salt & pepper"]},
 "transform":[{"filter":"datum.p == 2"}],
 "resolve":{"axis":{"x":"independent","y":"independent"}},
 "layer":[
  {"mark":{"type":"line","strokeWidth":0.8},
   "encoding":{
    "x":{"field":"x","type":"quantitative","scale":{"domain":[0,10],"nice":false,"zero":false},"axis":{"values":[0,5,10],"title":"CPU time"}},
    "y":{"field":"y","type":"quantitative","scale":{"domain":[-10,15],"nice":false,"zero":false},"axis":{"values":[-10,-5,0,5,10,15],"title":"SNR"}},
    "color":{"field":"m","type":"nominal","scale":{"domain":["ALM","FTVDM","HQA"],"range":["#ff00ff","#00ffff","#000000"]},"legend":{"title":null,"orient":"none","legendX":72,"legendY":262,"symbolSize":1936,"symbolOffset":4,"labelOffset":8.7,"fillColor":"white","strokeColor":"black","zindex":1}},
    "strokeDash":{"field":"m","type":"nominal","scale":{"domain":["ALM","FTVDM","HQA"],"range":[[6,4],[1,0],[6,4]]},"legend":{"title":null,"orient":"none","legendX":72,"legendY":262,"symbolSize":1936,"symbolOffset":4,"labelOffset":8.7,"fillColor":"white","strokeColor":"black","zindex":1}}
   }},
  {"mark":{"type":"point","filled":false,"strokeWidth":0.8,"opacity":1,"size":50},
   "encoding":{
    "x":{"field":"x","type":"quantitative","scale":{"domain":[0,10],"nice":false,"zero":false},"axis":{"orient":"top","values":[0,5,10],"labels":false,"title":null}},
    "y":{"field":"y","type":"quantitative","scale":{"domain":[-10,15],"nice":false,"zero":false},"axis":{"orient":"right","values":[-10,-5,0,5,10,15],"labels":false,"title":null}},
    "stroke":{"field":"m","type":"nominal","scale":{"range":["#ff00ff","#00ffff","#000000"]},"legend":{"title":null,"orient":"none","legendX":72,"legendY":262,"symbolSize":50,"symbolOffset":22.5,"labelOffset":8.7,"labelExpr":"''","fillColor":"transparent","strokeColor":"transparent","zindex":2}},
    "shape":{"field":"m","type":"nominal","scale":{"range":["circle","square","M-1,-1L1,1M-1,1L1,-1"]},"legend":{"title":null,"orient":"none","legendX":72,"legendY":262,"symbolSize":50,"symbolOffset":22.5,"labelOffset":8.7,"labelExpr":"''","fillColor":"transparent","strokeColor":"transparent","zindex":2}}
   }}
 ]},
{"width":192,"height":330,
 "title":{"text":["Blurry & Noisy: 50%","salt & pepper"]},
 "transform":[{"filter":"datum.p == 3"}],
 "resolve":{"axis":{"x":"independent","y":"independent"}},
 "layer":[
  {"mark":{"type":"line","strokeWidth":0.8},
   "encoding":{
    "x":{"field":"x","type":"quantitative","scale":{"domain":[0,20],"nice":false,"zero":false},"axis":{"values":[0,10,20],"title":"CPU time"}},
    "y":{"field":"y","type":"quantitative","scale":{"domain":[-10,15],"nice":false,"zero":false},"axis":{"values":[-10,-5,0,5,10,15],"title":"SNR"}},
    "color":{"field":"m","type":"nominal","scale":{"domain":["ALM","FTVDM","HQA"],"range":["#ff00ff","#00ffff","#000000"]},"legend":{"title":null,"orient":"none","legendX":72,"legendY":262,"symbolSize":1936,"symbolOffset":4,"labelOffset":8.7,"fillColor":"white","strokeColor":"black","zindex":1}},
    "strokeDash":{"field":"m","type":"nominal","scale":{"domain":["ALM","FTVDM","HQA"],"range":[[6,4],[1,0],[6,4]]},"legend":{"title":null,"orient":"none","legendX":72,"legendY":262,"symbolSize":1936,"symbolOffset":4,"labelOffset":8.7,"fillColor":"white","strokeColor":"black","zindex":1}}
   }},
  {"mark":{"type":"point","filled":false,"strokeWidth":0.8,"opacity":1,"size":50},
   "encoding":{
    "x":{"field":"x","type":"quantitative","scale":{"domain":[0,20],"nice":false,"zero":false},"axis":{"orient":"top","values":[0,10,20],"labels":false,"title":null}},
    "y":{"field":"y","type":"quantitative","scale":{"domain":[-10,15],"nice":false,"zero":false},"axis":{"orient":"right","values":[-10,-5,0,5,10,15],"labels":false,"title":null}},
    "stroke":{"field":"m","type":"nominal","scale":{"range":["#ff00ff","#00ffff","#000000"]},"legend":{"title":null,"orient":"none","legendX":72,"legendY":262,"symbolSize":50,"symbolOffset":22.5,"labelOffset":8.7,"labelExpr":"''","fillColor":"transparent","strokeColor":"transparent","zindex":2}},
    "shape":{"field":"m","type":"nominal","scale":{"range":["circle","square","M-1,-1L1,1M-1,1L1,-1"]},"legend":{"title":null,"orient":"none","legendX":72,"legendY":262,"symbolSize":50,"symbolOffset":22.5,"labelOffset":8.7,"labelExpr":"''","fillColor":"transparent","strokeColor":"transparent","zindex":2}}
   }}
 ]},
{"width":192,"height":330,
 "title":{"text":["Blurry & Noisy: 60%","salt & pepper"]},
 "transform":[{"filter":"datum.p == 4"}],
 "resolve":{"axis":{"x":"independent","y":"independent"}},
 "layer":[
  {"mark":{"type":"line","strokeWidth":0.8},
   "encoding":{
    "x":{"field":"x","type":"quantitative","scale":{"domain":[0,15],"nice":false,"zero":false},"axis":{"values":[0,5,10,15],"title":"CPU time"}},
    "y":{"field":"y","type":"quantitative","scale":{"domain":[-8,12],"nice":false,"zero":false},"axis":{"values":[-8,-6,-4,-2,0,2,4,6,8,10,12],"title":"SNR"}},
    "color":{"field":"m","type":"nominal","scale":{"domain":["ALM","FTVDM","HQA"],"range":["#ff00ff","#00ffff","#000000"]},"legend":{"title":null,"orient":"none","legendX":72,"legendY":262,"symbolSize":1936,"symbolOffset":4,"labelOffset":8.7,"fillColor":"white","strokeColor":"black","zindex":1}},
    "strokeDash":{"field":"m","type":"nominal","scale":{"domain":["ALM","FTVDM","HQA"],"range":[[6,4],[1,0],[6,4]]},"legend":{"title":null,"orient":"none","legendX":72,"legendY":262,"symbolSize":1936,"symbolOffset":4,"labelOffset":8.7,"fillColor":"white","strokeColor":"black","zindex":1}}
   }},
  {"mark":{"type":"point","filled":false,"strokeWidth":0.8,"opacity":1,"size":50},
   "encoding":{
    "x":{"field":"x","type":"quantitative","scale":{"domain":[0,15],"nice":false,"zero":false},"axis":{"orient":"top","values":[0,5,10,15],"labels":false,"title":null}},
    "y":{"field":"y","type":"quantitative","scale":{"domain":[-8,12],"nice":false,"zero":false},"axis":{"orient":"right","values":[-8,-6,-4,-2,0,2,4,6,8,10,12],"labels":false,"title":null}},
    "stroke":{"field":"m","type":"nominal","scale":{"range":["#ff00ff","#00ffff","#000000"]},"legend":{"title":null,"orient":"none","legendX":72,"legendY":262,"symbolSize":50,"symbolOffset":22.5,"labelOffset":8.7,"labelExpr":"''","fillColor":"transparent","strokeColor":"transparent","zindex":2}},
    "shape":{"field":"m","type":"nominal","scale":{"range":["circle","square","M-1,-1L1,1M-1,1L1,-1"]},"legend":{"title":null,"orient":"none","legendX":72,"legendY":262,"symbolSize":50,"symbolOffset":22.5,"labelOffset":8.7,"labelExpr":"''","fillColor":"transparent","strokeColor":"transparent","zindex":2}}
   }}
 ]}
],
"resolve":{"scale":{"color":"independent","stroke":"independent","shape":"independent","strokeDash":"independent"},"legend":{"color":"independent","stroke":"independent","shape":"independent","strokeDash":"independent"}},
"config":{
 "font":"Liberation Sans",
 "view":{"stroke":"black","strokeWidth":1.2},
 "title":{"font":"Liberation Sans","fontSize":14.5,"fontWeight":"normal","color":"black","lineHeight":15,"baseline":"bottom","offset":2},
 "axis":{"domain":false,"grid":false,"tickSize":-4,"tickColor":"black","tickWidth":1,"labelColor":"black","titleColor":"black","labelFont":"Liberation Sans","titleFont":"Liberation Sans","labelFontSize":14.5,"titleFontSize":14.5,"titleFontWeight":"normal","labelFlush":false,"labelOverlap":false},
 "axisX":{"labelPadding":8,"titlePadding":2},
 "axisY":{"labelPadding":8,"titlePadding":7},
 "legend":{"padding":5,"labelFont":"Liberation Sans","labelFontSize":14.5,"labelColor":"black","clipHeight":14,"rowPadding":4,"symbolStrokeWidth":0.8}
}
}
